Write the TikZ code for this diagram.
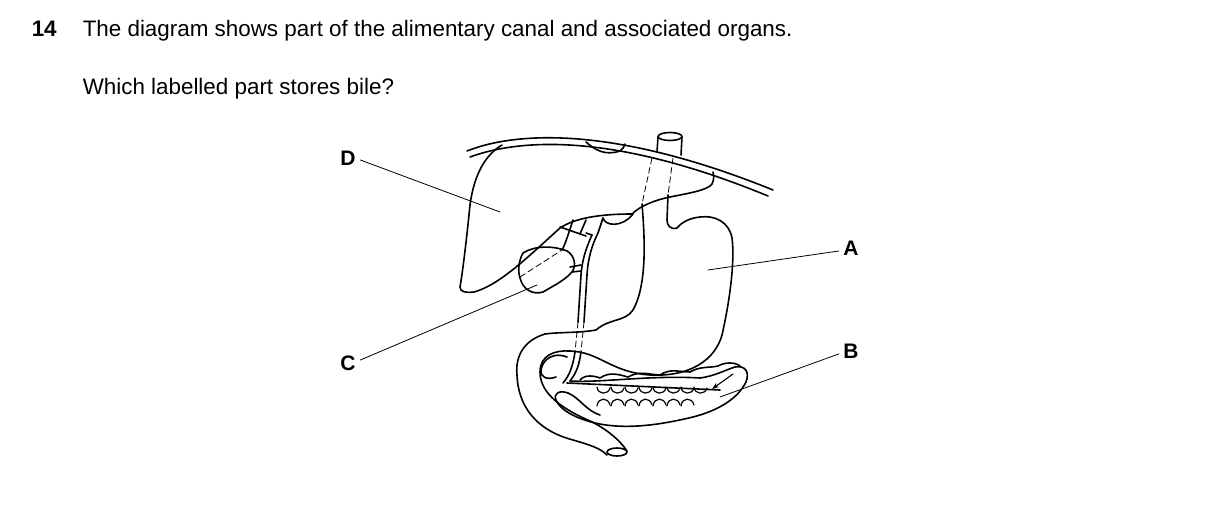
\documentclass[tikz,border=0pt]{standalone}
\usepackage{fontspec}
\setmainfont{Liberation Sans}
\usetikzlibrary{arrows.meta}
\begin{document}
\begin{tikzpicture}[x=1pt,y=-1pt,line width=1.5pt,line cap=round,line join=round,
  org/.style={line width=1.6pt},
  lead/.style={line width=0.8pt},
  lbl/.style={font=\fontsize{21}{24}\selectfont\bfseries,inner sep=0pt},
  txt/.style={font=\fontsize{22.4}{26}\selectfont,inner sep=0pt,anchor=base west},
  dsh/.style={line width=0.8pt,dash pattern=on 6pt off 3.5pt}]
\useasboundingbox (0,0) rectangle (1209,510);
\node[txt,font=\fontsize{22.4}{26}\selectfont\bfseries] (num) at (31,37) {14};
\node[txt] (q1) at (82,37) {The diagram shows part of the alimentary canal and associated organs.};
\node[txt] (q2) at (82,95) {Which labelled part stores bile?};
% diaphragm
\draw[org] (467,151) .. controls (520,130) and (620,128) .. (773,190);
\draw[org] (470,157) .. controls (525,137) and (620,135) .. (768,196);
% liver
\draw[org] (502,145) .. controls (485,155) and (474,175) .. (470,205)
  .. controls (467,235) and (463,270) .. (460,287) .. controls (460,292) and (466,293) .. (474,292)
  .. controls (500,285) and (530,255) .. (560,228) .. controls (575,218) and (600,214) .. (632,214)
  .. controls (640,206) and (655,200) .. (670,197) .. controls (690,193) and (708,190) .. (712,184)
  .. controls (714,180) and (714,176) .. (713,172);
\draw[org] (586,142) .. controls (595,150) and (605,156) .. (620,151) .. controls (623,149) and (624,147) .. (625,144);
\draw[org] (603,218) .. controls (605,226) and (622,228) .. (633,214);
% oesophagus
\draw[org] (670,136.5) ellipse (12 and 4);
\draw[org] (658,137) -- (657,152) (682,137) -- (681,155);
\draw[dsh] (652,158) -- (642,204) (673,158) -- (668,195);
% stomach
\draw[org] (642,204) .. controls (645,240) and (647,285) .. (633,310)
  .. controls (625,322) and (610,318) .. (596,330)
  .. controls (580,333) and (560,332) .. (545,334)
  .. controls (525,340) and (515,355) .. (517,375)
  .. controls (518,405) and (535,430) .. (573,440)
  .. controls (590,445) and (600,448) .. (607,455);
\draw[org] (617,452) ellipse (10 and 4);
\draw[org] (627,451) .. controls (620,440) and (605,428) .. (590,421)
  .. controls (565,410) and (540,395) .. (540,372)
  .. controls (540,355) and (555,350) .. (570,351)
  .. controls (600,352) and (610,372) .. (650,375)
  .. controls (690,377) and (715,360) .. (722,335)
  .. controls (730,300) and (735,260) .. (732,238)
  .. controls (729,222) and (715,215) .. (700,217)
  .. controls (690,218) and (682,222) .. (677,228)
  .. controls (670,230) and (667,225) .. (667,220) -- (668,195);
% small loop
\draw[org] (567,357) .. controls (555,352) and (543,358) .. (541,370)
  .. controls (540,378) and (548,380) .. (556,377);
% bile ducts
\draw[org] (592,235) .. controls (585,250) and (582,262) .. (581,275) -- (578,322);
\draw[org] (598,233) .. controls (592,245) and (588,258) .. (587,275) -- (584,322);
\draw[dsh] (578,322) -- (575,352) (584,322) -- (581,352);
\draw[org] (575,352) .. controls (573,365) and (570,375) .. (563,383);
\draw[org] (581,352) .. controls (579,365) and (577,372) .. (570,381);
\draw[org] (598,233) -- (603,218) (592,235) -- (586,233);
\draw[org] (560,227) -- (586,236) (573,220) .. controls (568,235) and (565,245) .. (562,250);
\draw[org] (586,220) -- (580,234);
\draw[org] (570,267) -- (581,265) (572,272) -- (581,271);
% gallbladder
\draw[org] (523,253) .. controls (518,262) and (518,272) .. (520,278)
  .. controls (523,290) and (533,295) .. (543,292)
  .. controls (555,285) and (565,280) .. (572,272)
  .. controls (577,265) and (574,255) .. (567,251)
  .. controls (555,246) and (535,245) .. (523,253);
\draw[dsh] (520,277) -- (562,250);
% pancreas
\draw[org] (570,381) .. controls (600,383) and (650,375) .. (700,378) .. controls (715,376) and (725,370) .. (735,367)
  .. controls (745,365) and (750,372) .. (746,382)
  .. controls (738,398) and (720,410) .. (693,417)
  .. controls (660,425) and (625,430) .. (595,423)
  .. controls (575,418) and (560,410) .. (556,400)
  .. controls (553,393) and (560,390) .. (568,393)
  .. controls (580,398) and (585,410) .. (600,415);
\draw[org] (580,380) .. controls (585,374) and (595,376) .. (600,378) .. controls (610,371) and (620,375) .. (628,377)
  .. controls (640,370) and (650,375) .. (660,375) .. controls (670,368) and (680,372) .. (690,372)
  .. controls (700,366) and (710,368) .. (718,366) .. controls (725,362) and (735,362) .. (740,366);
\draw[org] (567,383) -- (720,390);
\foreach \x in {597,611,625,639,653,667,681,694} \draw[line width=1.2pt] (\x,387) .. controls (\x+1,395) and (\x+11,395) .. (\x+13,388);
\foreach \x in {597,611,625,639,653,667,681} \draw[line width=1.2pt] (\x,406) .. controls (\x+1,397) and (\x+11,397) .. (\x+13,405);
\draw[line width=1.1pt,-{Stealth[length=7pt,width=5pt]}] (733,374) -- (712,389);
% leaders and labels
\node[lbl] (D) at (348,158) {D};
\node[lbl] (A) at (851,248) {A};
\node[lbl] (B) at (851,351) {B};
\node[lbl] (C) at (348,363) {C};
\coordinate (dD) at (500,212); \coordinate (dA) at (708,270);
\coordinate (dB) at (720,397); \coordinate (dC) at (537,285);
\draw[lead] (D.east)++(4,2) -- (dD);
\draw[lead] (A.west)++(-4,3) -- (dA);
\draw[lead] (B.west)++(-4,3) -- (dB);
\draw[lead] (C.east)++(4,-3) -- (dC);
\end{tikzpicture}
\end{document}
